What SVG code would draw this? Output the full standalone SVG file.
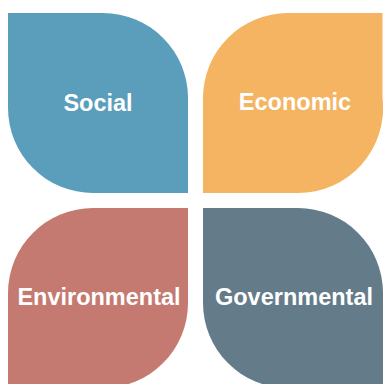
<svg xmlns="http://www.w3.org/2000/svg" width="383" height="384" viewBox="0 0 383 384">
<style>
.lbl{font-family:"Liberation Sans",Arial,sans-serif;font-weight:bold;font-size:23.5px;fill:#ffffff;text-anchor:middle}
</style>
<rect width="383" height="384" fill="#ffffff"/>
<g id="social">
<path d="M8,13 H103 A85,85 0 0 1 188,98 V193 H93 A85,85 0 0 1 8,108 Z" fill="#5B9EBB"/>
<text class="lbl" x="98" y="111">Social</text>
</g>
<g id="economic">
<path d="M382.5,13 V98 A85,85 0 0 1 297.5,193 H203 V98 A85,85 0 0 1 288,13 Z" fill="#F4B462"/>
<text class="lbl" x="295" y="110">Economic</text>
</g>
<g id="environmental">
<path d="M188,208 V303 A85,85 0 0 1 103,388 H8 V293 A85,85 0 0 1 93,208 Z" fill="#C47A70"/>
<text class="lbl" x="99" y="305">Environmental</text>
</g>
<g id="governmental">
<path d="M203,208 H298 A85,85 0 0 1 383,293 V388 H288 A85,85 0 0 1 203,303 Z" fill="#647B8A"/>
<text class="lbl" x="294" y="305">Governmental</text>
</g>
<g id="connectors"/>
</svg>
